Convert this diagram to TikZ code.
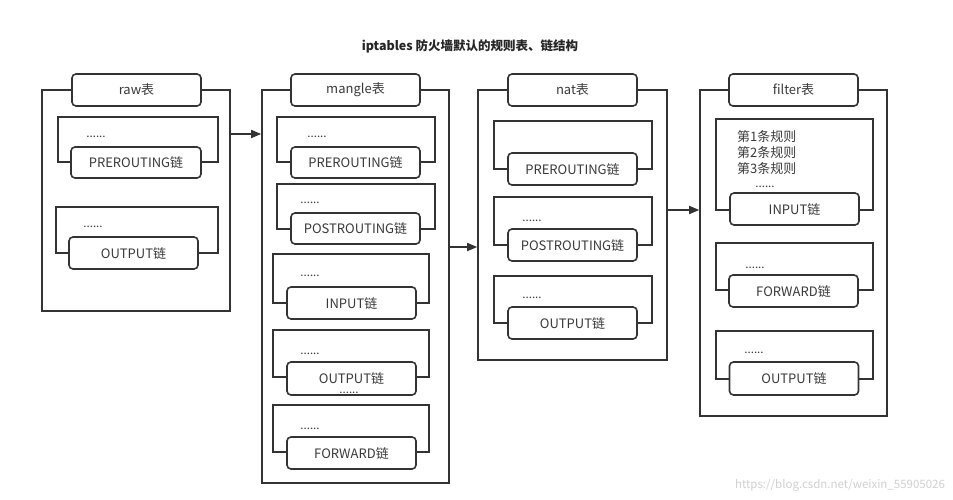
\documentclass[tikz,border=0pt]{standalone}
\usepackage{fontspec}
\setmainfont{Noto Sans CJK SC}
\usetikzlibrary{arrows.meta}
\definecolor{ln}{HTML}{333333}
\definecolor{tx}{HTML}{3A3A3A}
\begin{document}
\begin{tikzpicture}[x=1pt,y=-1pt,
  outerbox/.style={draw=ln,line width=1.6pt,rectangle,inner sep=0pt},
  headbox/.style={draw=ln,line width=1.6pt,rectangle,rounded corners=4pt,fill=white,minimum width=129pt,minimum height=32pt,inner sep=0pt,text=tx,font=\fontsize{13}{14}\selectfont},
  bracketbox/.style={draw=ln,line width=1.6pt,rectangle,inner sep=0pt},
  chainbox/.style={draw=ln,line width=1.6pt,rectangle,rounded corners=4pt,fill=white,minimum width=129pt,minimum height=32pt,inner sep=0pt,text=tx,font=\fontsize{13}{14}\selectfont},
  dotstxt/.style={text=tx,inner sep=0pt,font=\fontsize{11.5}{12}\selectfont},
  ruletxt/.style={text=tx,inner sep=0pt,anchor=west,font=\fontsize{13}{14}\selectfont},
  flow/.style={draw=ln,line width=1.6pt,-{Triangle[length=10pt,width=8pt]}}
]
\useasboundingbox (0,0) rectangle (953,500);
\fill[white] (0,0) rectangle (953,500);

\node[font=\bfseries\fontsize{12.5}{14}\selectfont,text=black!85] (title) at (470,46) {iptables 防火墙默认的规则表、链结构};

% ---------- raw ----------
\node[outerbox,minimum width=188pt,minimum height=221pt] (raw) at (136,200.5) {};
\node[headbox] (rawh) at (136.5,90) {raw表};
\node[bracketbox,minimum width=160pt,minimum height=45pt] (rawb1) at (138,139.5) {};
\node[chainbox,minimum width=130pt,minimum height=31pt] (rawc1) at (136,162.5) {PREROUTING链};
\node[dotstxt] (rawd1) at (96,137) {......};
\node[bracketbox,minimum width=162pt,minimum height=46pt] (rawb2) at (137,230) {};
\node[chainbox] (rawc2) at (133.5,253) {OUTPUT链};
\node[dotstxt] (rawd2) at (93,227) {......};

% ---------- mangle ----------
\node[outerbox,minimum width=187pt,minimum height=393pt] (mangle) at (355.5,286.5) {};
\node[headbox] (mangleh) at (355.5,90) {mangle表};
\node[bracketbox,minimum width=158pt,minimum height=45pt] (mb1) at (356,139.5) {};
\node[chainbox,minimum height=31pt] (mc1) at (355.5,162.5) {PREROUTING链};
\node[dotstxt] (md1) at (317,137) {......};
\node[bracketbox,minimum width=158pt,minimum height=45pt] (mb2) at (356,206.5) {};
\node[chainbox,minimum height=31pt] (mc2) at (355.5,228.5) {POSTROUTING链};
\node[dotstxt] (md2) at (310,203) {......};
\node[bracketbox,minimum width=156pt,minimum height=49pt] (mb3) at (351,278.5) {};
\node[chainbox] (mc3) at (351.5,303) {INPUT链};
\node[dotstxt] (md3) at (310,276) {......};
\node[bracketbox,minimum width=156pt,minimum height=47pt] (mb4) at (351,353.5) {};
\node[chainbox,minimum height=33pt] (mc4) at (351.5,378.5) {OUTPUT链};
\node[dotstxt] (md4) at (310,354) {......};
\node[dotstxt] (md4b) at (349,393) {......};
\node[bracketbox,minimum width=156pt,minimum height=47pt] (mb5) at (351,428.5) {};
\node[chainbox] (mc5) at (351.5,453) {FORWARD链};
\node[dotstxt] (md5) at (310,429) {......};

% ---------- nat ----------
\node[outerbox,minimum width=189pt,minimum height=270pt] (nat) at (572.5,225) {};
\node[headbox] (nath) at (572.5,90) {nat表};
\node[bracketbox,minimum width=158pt,minimum height=48pt] (nb1) at (573,145) {};
\node[chainbox] (nc1) at (572.5,169) {PREROUTING链};
\node[bracketbox,minimum width=158pt,minimum height=48pt] (nb2) at (573,221) {};
\node[chainbox] (nc2) at (572.5,245) {POSTROUTING链};
\node[dotstxt] (nd2) at (532,221) {......};
\node[bracketbox,minimum width=158pt,minimum height=47pt] (nb3) at (573,299.5) {};
\node[chainbox] (nc3) at (572.5,323) {OUTPUT链};
\node[dotstxt] (nd3) at (532,298) {......};

% ---------- filter ----------
\node[outerbox,minimum width=187pt,minimum height=326pt] (filter) at (793.5,253) {};
\node[headbox] (filterh) at (793.5,90) {filter表};
\node[bracketbox,minimum width=157pt,minimum height=91pt] (fb1) at (794.5,164.5) {};
\node[chainbox] (fc1) at (794.5,209) {INPUT链};
\node[ruletxt] (fr1) at (737,137) {第1条规则};
\node[ruletxt] (fr2) at (737,153) {第2条规则};
\node[ruletxt] (fr3) at (737,169) {第3条规则};
\node[dotstxt] (fd1) at (765,187) {......};
\node[bracketbox,minimum width=157pt,minimum height=47pt] (fb2) at (794.5,266.5) {};
\node[chainbox] (fc2) at (793.5,291) {FORWARD链};
\node[dotstxt] (fd2) at (755,268) {......};
\node[bracketbox,minimum width=157pt,minimum height=48pt] (fb3) at (794.5,355) {};
\node[chainbox,minimum height=33pt] (fc3) at (794,378.5) {OUTPUT链};
\node[dotstxt] (fd3) at (754,353) {......};

% ---------- arrows ----------
\coordinate (a1) at (0,134);
\coordinate (a2) at (0,247);
\coordinate (a3) at (0,210);
\draw[flow] (raw.east |- a1) -- (mangle.west |- a1);
\draw[flow] (mangle.east |- a2) -- (nat.west |- a2);
\draw[flow] (nat.east |- a3) -- (filter.west |- a3);

\node[text=black!18,font=\fontsize{11.5}{13}\selectfont] (wm) at (840,485) {https://blog.csdn.net/weixin\_55905026};
\end{tikzpicture}
\end{document}
